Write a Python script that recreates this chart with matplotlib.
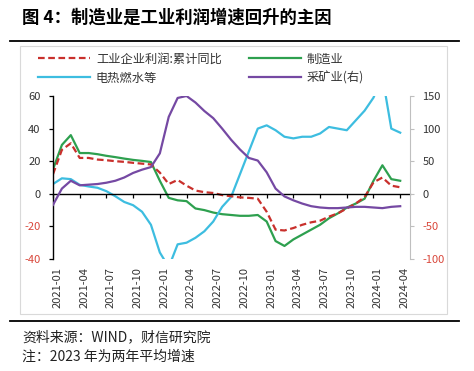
import numpy as np
import matplotlib
matplotlib.use("Agg")
import matplotlib.pyplot as plt
from matplotlib.lines import Line2D
from matplotlib.patches import Rectangle
import matplotlib.transforms as mtransforms

plt.rcParams['font.family'] = ['Noto Sans CJK SC', 'DejaVu Sans']
plt.rcParams['axes.unicode_minus'] = False

# datos mensuales 2021-01 .. 2024-04
profit = [12, 27, 31, 22, 22, 21, 20.6, 20, 19.6, 19, 18.5, 18, 13, 6, 8.5, 5, 2, 1, 0.5, -0.8,
          -1.5, -2.2, -2.5, -3, -11, -22, -22.5, -21, -19, -17.5, -16.5, -14, -12, -9, -6, -2, 7, 10, 5, 4]
manuf = [15, 30, 36, 25, 25, 24.3, 23.3, 22.5, 21.6, 20.8, 20.2, 19.5, 8, -2.5, -4, -4.5, -9, -10, -11.5, -12.5,
         -13, -13.5, -13.5, -13, -17, -29, -32, -28, -25, -22, -19, -15, -12, -8.5, -6, -3, 8, 17.5, 9, 8]
utility = [6, 9.5, 9, 5.5, 4.5, 3.7, 1.6, -1.5, -5, -7, -11, -19, -36, -45, -31, -30, -27, -23, -17, -8,
           -2, 12, 26, 40, 42, 39, 35, 34, 35, 35, 37, 41, 40, 39, 45, 51, 59, 72, 40, 37.5]
mining = [-17, 8, 20, 13, 14, 15, 17, 20, 25, 32, 37, 41, 62, 118, 147, 150, 140, 127, 116, 100,
          83, 68, 55, 51, 33, 8, -4, -10, -15, -19, -21, -22, -22, -21, -20, -20, -21, -22, -20, -19]

tick_pos = list(range(0, 40, 3))
tick_lab = ['2021-01', '2021-04', '2021-07', '2021-10', '2022-01', '2022-04', '2022-07',
            '2022-10', '2023-01', '2023-04', '2023-07', '2023-10', '2024-01', '2024-04']
left_ticks = [60, 40, 20, 0, -20, -40]
right_ticks = [150, 100, 50, 0, -50, -100]

c_red = '#C9302C'
c_green = '#2EA04F'
c_cyan = '#3DBDE0'
c_purple = '#7549A3'
c_neg = '#D9473B'
c_txt = '#333333'

W, H = 474, 371
fig = plt.figure(figsize=(W / 100, H / 100), dpi=100)

def fx(px):
    return px / W

def fy(py):
    return 1 - py / H

# marco del grafico y lineas del titulo
fig.add_artist(Rectangle((fx(20), fy(314)), fx(427), (314 - 46) / H, transform=fig.transFigure,
                         fill=False, edgecolor='#D9D9D9', lw=0.8))
fig.add_artist(Line2D([fx(10), fx(459)], [fy(41), fy(41)], color='black', lw=1.3))
fig.add_artist(Line2D([fx(10), fx(459)], [fy(321), fy(321)], color='black', lw=1.3))

fig.text(fx(22), fy(18), '图 4：制造业是工业利润增速回升的主因', fontsize=12.5, fontweight='bold',
         va='center', ha='left')
fig.text(fx(22), fy(337), '资料来源：WIND，财信研究院', fontsize=10, va='center', ha='left', color='#222222')
fig.text(fx(22), fy(357), '注：2023 年为两年平均增速', fontsize=10, va='center', ha='left', color='#222222')

ax = fig.add_axes([fx(53), fy(259), fx(410 - 53), (259 - 96) / H])
x = np.arange(len(profit))

ax.plot(x, manuf, color=c_green, lw=1.6)
ax.plot(x, utility, color=c_cyan, lw=1.6)
ax.plot(x, profit, color=c_red, lw=1.6, ls=(0, (3, 1.6)))

ax.set_xlim(0, 40.1)
ax.set_ylim(-40, 60)
ax.set_yticks(left_ticks)
ax.set_yticklabels([str(v) for v in left_ticks], fontsize=8)
for lab, v in zip(ax.get_yticklabels(), left_ticks):
    lab.set_color(c_neg if v < 0 else c_txt)
ax.tick_params(axis='y', direction='out', length=3, width=0.9, pad=6)

ax.spines['top'].set_visible(False)
ax.spines['right'].set_visible(False)
ax.spines['left'].set_linewidth(1.0)
ax.spines['bottom'].set_position(('data', 0))
ax.spines['bottom'].set_linewidth(1.0)
ax.set_xticks(tick_pos)
ax.set_xticklabels([])
ax.tick_params(axis='x', direction='out', length=3, width=0.9)

trans = mtransforms.blended_transform_factory(ax.transData, ax.transAxes)
for p, lab in zip(tick_pos, tick_lab):
    ax.text(p + 0.5, -0.05, lab, transform=trans, rotation=90, ha='center', va='top',
            fontsize=8, color=c_txt)

ax2 = ax.twinx()
ax2.plot(x, mining, color=c_purple, lw=1.6)
ax2.set_ylim(-100, 150)
ax2.set_yticks(right_ticks)
ax2.set_yticklabels([str(v) for v in right_ticks], fontsize=8)
for lab, v in zip(ax2.get_yticklabels(), right_ticks):
    lab.set_color(c_neg if v < 0 else c_txt)
ax2.tick_params(axis='y', direction='out', length=3, width=0.8, color='#BFBFBF', pad=6)
for s in ['top', 'left', 'bottom']:
    ax2.spines[s].set_visible(False)
ax2.spines['right'].set_color('#BFBFBF')

h_red = Line2D([], [], color=c_red, lw=1.6, ls=(0, (3, 1.6)))
h_cyan = Line2D([], [], color=c_cyan, lw=1.6)
h_green = Line2D([], [], color=c_green, lw=1.6)
h_purple = Line2D([], [], color=c_purple, lw=1.6)

leg1 = fig.legend([h_red, h_cyan], ['工业企业利润:累计同比', '电热燃水等'], loc='upper left',
                  bbox_to_anchor=(fx(36), fy(50)), frameon=False, fontsize=8.8, handlelength=4.2,
                  handletextpad=0.5, labelspacing=0.5, borderaxespad=0, borderpad=0.2)
leg2 = fig.legend([h_green, h_purple], ['制造业', '采矿业(右)'], loc='upper left',
                  bbox_to_anchor=(fx(247), fy(50)), frameon=False, fontsize=8.8, handlelength=4.2,
                  handletextpad=0.5, labelspacing=0.5, borderaxespad=0, borderpad=0.2)
for leg in (leg1, leg2):
    for t in leg.get_texts():
        t.set_color(c_txt)

fig.savefig('out.png', dpi=100)
